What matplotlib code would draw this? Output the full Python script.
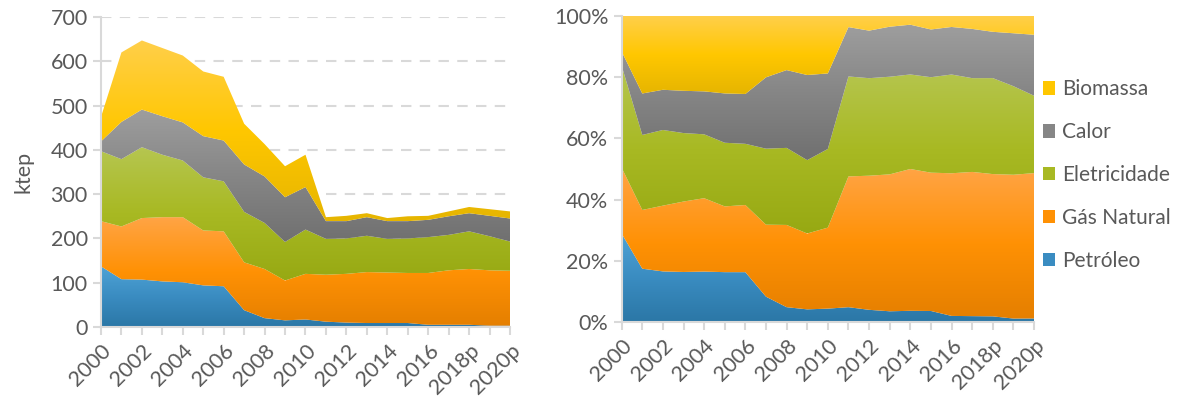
import numpy as np
import matplotlib
matplotlib.use('Agg')
import matplotlib.pyplot as plt
from matplotlib.colors import LinearSegmentedColormap
from matplotlib.patches import Patch
from matplotlib.ticker import PercentFormatter

plt.rcParams['font.family'] = ['Lato', 'DejaVu Sans']

years = ['2000', '2001', '2002', '2003', '2004', '2005', '2006', '2007', '2008',
         '2009', '2010', '2011', '2012', '2013', '2014', '2015', '2016', '2017',
         '2018p', '2019p', '2020p']

# ktep
petroleo = [137, 108, 107, 103, 101, 94, 92, 38, 20, 15, 17, 12, 10, 9, 9, 9, 5, 5, 5, 3, 3]
gas_natural = [102, 119, 139, 145, 147, 124, 124, 108, 111, 90, 103, 106, 110, 115, 114, 113, 117, 123, 126, 125, 124]
eletricidade = [158, 152, 160, 141, 128, 120, 113, 114, 104, 87, 100, 81, 80, 82, 76, 78, 81, 80, 85, 77, 66]
calor = [22, 84, 85, 87, 86, 93, 92, 107, 105, 101, 96, 40, 39, 42, 40, 39, 39, 42, 41, 46, 52]
biomassa = [55, 157, 156, 154, 151, 146, 144, 92, 73, 70, 73, 9, 12, 9, 7, 11, 9, 11, 14, 15, 16]

labels = ['Petróleo', 'Gás Natural', 'Eletricidade', 'Calor', 'Biomassa']
series = [petroleo, gas_natural, eletricidade, calor, biomassa]

# top / middle / bottom colours of each gradient
gradients = [
    ['#4fa3d6', '#3a8cc1', '#2b77a6'],
    ['#ffa445', '#ff9104', '#e57f00'],
    ['#b6c651', '#a8b923', '#97a913'],
    ['#9e9e9e', '#868686', '#707070'],
    ['#ffcf4a', '#ffc700', '#e6b500'],
]

text_col = '#595959'
axis_col = '#d9d9d9'


def grad_fill(ax, x, y0, y1, stops):
    poly = ax.fill_between(x, y0, y1, facecolor='none', edgecolor='none')
    cmap = LinearSegmentedColormap.from_list('g', stops[::-1])
    img = np.linspace(0, 1, 256).reshape(-1, 1)
    im = ax.imshow(img, cmap=cmap, origin='lower', aspect='auto',
                   extent=[x[0], x[-1], np.min(y0), np.max(y1)],
                   interpolation='bilinear', zorder=2)
    im.set_clip_path(poly.get_paths()[0], transform=ax.transData)


def style_axes(ax):
    for s in ['top', 'right']:
        ax.spines[s].set_visible(False)
    for s in ['left', 'bottom']:
        ax.spines[s].set_color(axis_col)
        ax.spines[s].set_linewidth(1.5)
        ax.spines[s].set_zorder(5)
    ax.tick_params(axis='both', colors=axis_col, labelcolor=text_col,
                   labelsize=15.5, length=6, width=1.5, direction='out')
    ax.set_xticks(np.arange(len(years)))
    ax.set_xticklabels([y if i % 2 == 0 else '' for i, y in enumerate(years)],
                       rotation=45, ha='right', rotation_mode='anchor')
    ax.set_xlim(0, len(years) - 1)


x = np.arange(len(years))
data = np.array(series, dtype=float)
cum = np.vstack([np.zeros(len(years)), np.cumsum(data, axis=0)])
pct = cum / cum[-1]

fig = plt.figure(figsize=(11.85, 4.0), dpi=100)
ax1 = fig.add_axes([0.0852, 0.1825, 0.3452, 0.775])
ax2 = fig.add_axes([0.5246, 0.195, 0.348, 0.765])

for i in range(len(series)):
    grad_fill(ax1, x, cum[i], cum[i + 1], gradients[i])
    grad_fill(ax2, x, pct[i], pct[i + 1], gradients[i])

style_axes(ax1)
ax1.set_ylim(0, 700)
ax1.set_yticks(range(0, 701, 100))
ax1.grid(axis='y', color=axis_col, linestyle=(0, (5, 4)), linewidth=1.5, zorder=0)
ax1.set_axisbelow(True)
ax1.set_ylabel('ktep', color=text_col, fontsize=15.5, labelpad=12)

style_axes(ax2)
ax2.set_ylim(0, 1)
ax2.set_yticks(np.linspace(0, 1, 6))
ax2.yaxis.set_major_formatter(PercentFormatter(1.0, decimals=0))

handles = [Patch(facecolor=gradients[i][1], edgecolor='none', label=labels[i])
           for i in range(len(series))][::-1]
fig.legend(handles=handles, loc='center left', bbox_to_anchor=(0.864, 0.562),
           frameon=False, fontsize=15, labelcolor=text_col, handlelength=0.6,
           handleheight=0.6, handletextpad=0.35, labelspacing=1.1)

fig.savefig('out.png', dpi=100)
